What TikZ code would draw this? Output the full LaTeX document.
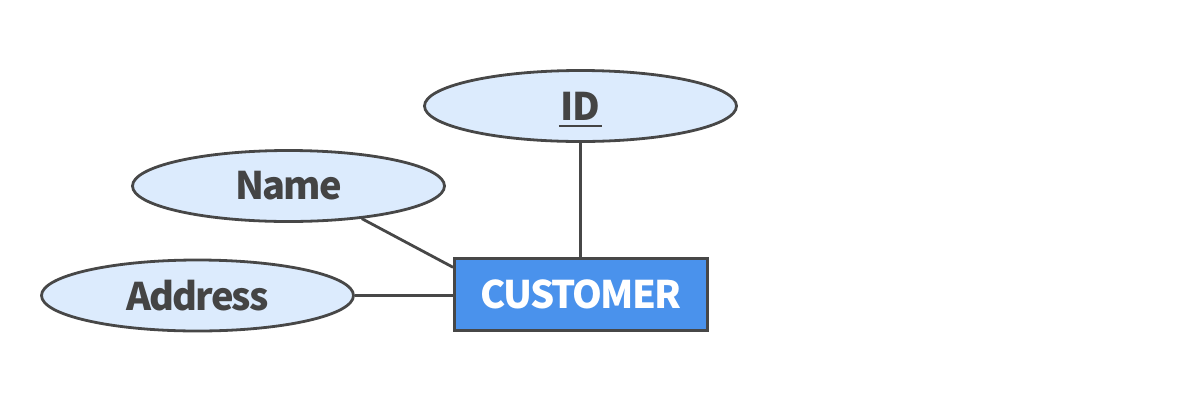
\documentclass[tikz,border=0pt]{standalone}
\usepackage{fontspec}
\setmainfont{Noto Sans CJK SC}[LetterSpace=-5]
\usetikzlibrary{shapes.geometric}
\definecolor{edgegray}{HTML}{474747}
\definecolor{attrfill}{HTML}{DCEBFD}
\definecolor{entfill}{HTML}{4A92EC}
\definecolor{txtgray}{HTML}{444444}
\tikzset{
  attr/.style={ellipse, draw=edgegray, line width=2.8pt, fill=attrfill,
    minimum width=312pt, minimum height=71pt, inner sep=0pt,
    text=txtgray, font=\fontsize{38}{42}\selectfont\bfseries},
  entity/.style={rectangle, draw=edgegray, line width=2.8pt, fill=entfill,
    minimum width=253pt, minimum height=72pt, inner sep=0pt,
    text=white, font=\fontsize{38}{42}\selectfont\bfseries},
  link/.style={draw=edgegray, line width=2.8pt}
}
\newcommand{\keyul}[1]{\setbox0\hbox{#1}\rlap{\smash{\kern-2pt\rule[-7pt]{\dimexpr\wd0+4pt\relax}{2pt}}}\box0}
\begin{document}
\begin{tikzpicture}[x=1pt,y=-1pt]
\useasboundingbox (0,0) rectangle (1200,400);
\node[attr] (id) at (580.5,106) {\keyul{ID}};
\node[attr] (name) at (288.5,186) {Name};
\node[attr] (address) at (197.5,295.5) {Address};
\node[entity] (customer) at (581,294.5) {CUSTOMER};
\draw[link] (id.south) -- (id.south |- customer.north);
\draw[link] (name.-24) -- (customer.168);
\draw[link] (address.east) -- (customer.west |- address.east);
\end{tikzpicture}
\end{document}
